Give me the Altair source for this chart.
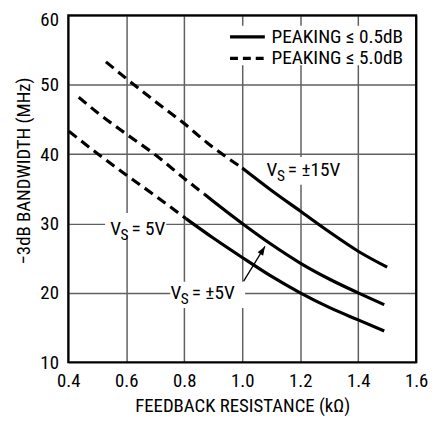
import altair as alt
import pandas as pd

FONT = "Roboto Condensed"

# ---- axes ----
x_domain = [0.4, 1.6]
y_domain = [10, 60]
x_ticks = [0.4, 0.6, 0.8, 1.0, 1.2, 1.4, 1.6]
y_ticks = [10, 20, 30, 40, 50, 60]
x_title = "FEEDBACK RESISTANCE (kΩ)"
y_title = "−3dB BANDWIDTH (MHz)"

# ---- curves (dashed = peaking <= 5.0dB, solid = peaking <= 0.5dB) ----
vs15_dash_x = [0.53, 0.6, 0.7, 0.8, 0.88, 1.0]
vs15_dash_y = [53.3, 50.9, 47.6, 44.4, 41.6, 38.0]
vs15_solid_x = [1.0, 1.1, 1.2, 1.3, 1.4, 1.5]
vs15_solid_y = [38.0, 34.8, 31.8, 28.8, 26.0, 23.7]

vs5d_dash_x = [0.436, 0.5, 0.6, 0.7, 0.8, 0.87]
vs5d_dash_y = [48.2, 46.0, 42.9, 39.9, 36.5, 34.2]
vs5d_solid_x = [0.87, 0.9, 1.0, 1.1, 1.2, 1.3, 1.4, 1.49]
vs5d_solid_y = [34.2, 33.2, 30.0, 27.0, 24.3, 22.0, 20.0, 18.3]

vs5_dash_x = [0.402, 0.5, 0.6, 0.7, 0.806]
vs5_dash_y = [43.3, 40.1, 37.0, 34.0, 30.7]
vs5_solid_x = [0.806, 0.9, 1.0, 1.1, 1.2, 1.3, 1.4, 1.49]
vs5_solid_y = [30.7, 27.9, 25.1, 22.4, 20.0, 17.9, 16.1, 14.5]

# ---- annotations ----
label_x = [1.084, 0.5445, 0.7525]
label_y = [37.7, 29.2, 19.9]
label_rest = ["= ±15V", "= 5V", "= ±5V"]
box_x = [1.068, 0.527, 0.752]
box_x2 = [1.363, 0.738, 1.010]
box_y = [35.6, 28.3, 17.8]
box_y2 = [39.6, 31.5, 21.6]

arrow_x = [1.005, 1.0785]
arrow_y = [21.7, 26.7]

legend_labels = ["PEAKING ≤ 0.5dB", "PEAKING ≤ 5.0dB"]
legend_y = [56.9, 53.8]
legend_x = [0.958, 1.078]
legend_text_x = 1.101
legend_box = [0.955, 1.551, 52.8, 58.5]


def seg(xs, ys, name):
    return pd.DataFrame({"x": xs, "y": ys, "curve": name})


dash_df = pd.concat([
    seg(vs15_dash_x, vs15_dash_y, "15"),
    seg(vs5d_dash_x, vs5d_dash_y, "5d"),
    seg(vs5_dash_x, vs5_dash_y, "5"),
])
solid_df = pd.concat([
    seg(vs15_solid_x, vs15_solid_y, "15"),
    seg(vs5d_solid_x, vs5d_solid_y, "5d"),
    seg(vs5_solid_x, vs5_solid_y, "5"),
])

xs = alt.Scale(domain=x_domain, nice=False, zero=False)
ys = alt.Scale(domain=y_domain, nice=False, zero=False)
x_axis = alt.Axis(values=x_ticks, format=".1f", title=x_title,
                  titleBaseline="alphabetic", titleY=50, titleAnchor="middle")
y_axis = alt.Axis(values=y_ticks, format="d", title=y_title,
                  titleAngle=270, titleBaseline="alphabetic", titleX=-39,
                  titleY=157, titleAlign="center",
                  labelOffset=alt.condition("datum.value == 60", alt.value(4), alt.value(0)))


def X(field="x"):
    return alt.X(f"{field}:Q", scale=xs, axis=x_axis)


def Y(field="y"):
    return alt.Y(f"{field}:Q", scale=ys, axis=y_axis)


boxes_df = pd.DataFrame({"x": box_x, "x2": box_x2, "y": box_y, "y2": box_y2})
boxes = alt.Chart(boxes_df).mark_rect(fill="white").encode(
    x=X(), x2="x2", y=Y(), y2="y2")

dashed = alt.Chart(dash_df).mark_line(
    color="black", strokeWidth=3.2, strokeDash=[10, 6], interpolate="monotone"
).encode(x=X(), y=Y(), detail="curve:N")

solid = alt.Chart(solid_df).mark_line(
    color="black", strokeWidth=3.2, interpolate="monotone"
).encode(x=X(), y=Y(), detail="curve:N")

arrow_df = pd.DataFrame({"x": arrow_x, "y": arrow_y})
arrow_line = alt.Chart(arrow_df).mark_line(color="black", strokeWidth=1.3).encode(
    x=X(), y=Y())
arrow_head = alt.Chart(arrow_df.iloc[[1]]).mark_point(
    shape="M0,0L-0.36,1L0.36,1Z", filled=True, color="black", opacity=1,
    size=324, angle=31
).encode(x=X(), y=Y())

lab_df = pd.DataFrame({"x": label_x, "y": label_y, "rest": label_rest})
lab_v = alt.Chart(lab_df).mark_text(
    text="V", align="left", baseline="middle", font=FONT, fontSize=19.5, color="black"
).encode(x=X(), y=Y())
lab_s = alt.Chart(lab_df).mark_text(
    text="S", align="left", baseline="middle", font=FONT, fontSize=15.5, color="black",
    dx=10.5, dy=6
).encode(x=X(), y=Y())
lab_r = alt.Chart(lab_df).mark_text(
    align="left", baseline="middle", font=FONT, fontSize=19.5, color="black", dx=21.5
).encode(x=X(), y=Y(), text="rest:N")

lbox_df = pd.DataFrame({"x": [legend_box[0]], "x2": [legend_box[1]],
                        "y": [legend_box[2]], "y2": [legend_box[3]]})
lbox = alt.Chart(lbox_df).mark_rect(fill="white").encode(
    x=X(), x2="x2", y=Y(), y2="y2")

leg_df = pd.DataFrame({"x": [legend_x[0]] * 2, "x2": [legend_x[1]] * 2,
                       "y": legend_y, "label": legend_labels,
                       "tx": [legend_text_x] * 2})
leg_solid = alt.Chart(leg_df.iloc[[0]]).mark_rule(color="black", strokeWidth=3.2).encode(
    x=X(), x2="x2", y=Y())
leg_dash = alt.Chart(leg_df.iloc[[1]]).mark_rule(
    color="black", strokeWidth=3.2, strokeDash=[8, 5]).encode(x=X(), x2="x2", y=Y())
leg_text = alt.Chart(leg_df).mark_text(
    align="left", baseline="middle", font=FONT, fontSize=19.5, color="black"
).encode(x=X("tx"), y=Y(), text="label:N")

frame_df = pd.DataFrame({"x": [x_domain[0]], "x2": [x_domain[1]],
                         "y": [y_domain[0]], "y2": [y_domain[1]]})
frame = alt.Chart(frame_df).mark_rect(
    fillOpacity=0, stroke="black", strokeWidth=2.2
).encode(x=X(), x2="x2", y=Y(), y2="y2")

chart = alt.layer(
    boxes, dashed, solid, arrow_line, arrow_head, lab_v, lab_s, lab_r,
    lbox, leg_solid, leg_dash, leg_text, frame
).properties(
    width=352, height=351,
    autosize=alt.AutoSizeParams(type="none"),
    padding={"left": 61, "top": 5, "right": 12, "bottom": 56},
    background="white",
).configure_view(stroke=None).configure_axis(
    grid=True, gridColor="#606060", gridWidth=1.5, domain=False, ticks=False,
    tickSize=0, labelPadding=10, labelFont=FONT, labelFontSize=19,
    labelColor="black", titleFont=FONT, titleFontSize=19,
    titleFontWeight="normal", titleColor="black", labelFlush=False,
    labelOverlap=False,
)

chart.save("out.html", embed_options={"renderer": "svg", "actions": False})
